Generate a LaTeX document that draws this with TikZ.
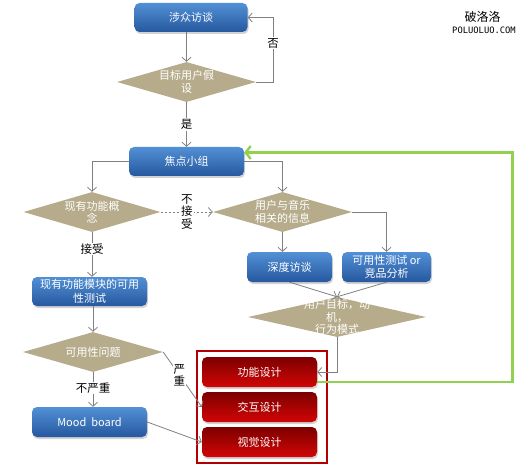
\documentclass[tikz,border=0pt]{standalone}
\usepackage{fontspec}
\setmainfont{Noto Sans CJK SC}
\newfontfamily\monofnt{DejaVu Sans Mono}
\usetikzlibrary{arrows.meta,shapes.geometric,shadows}
\definecolor{bluetop}{RGB}{82,144,214}
\definecolor{bluebot}{RGB}{38,88,158}
\definecolor{redtop}{RGB}{125,0,0}
\definecolor{redbot}{RGB}{210,5,5}
\definecolor{khaki}{RGB}{182,172,140}
\definecolor{conn}{RGB}{128,128,128}
\definecolor{lgreen}{RGB}{146,208,80}
\definecolor{frame}{RGB}{178,0,0}
\begin{document}
\begin{tikzpicture}[x=1pt,y=-1pt,
  box/.style={rounded corners=5pt, draw=none, text=white, align=center,
    font=\fontsize{11}{13.5}\selectfont, inner sep=1pt,
    drop shadow={shadow xshift=1pt,shadow yshift=-2pt,opacity=0.35}},
  bluebox/.style={box, top color=bluetop, bottom color=bluebot},
  redbox/.style={box, top color=redtop, bottom color=redbot, minimum width=115pt, minimum height=30pt},
  dia/.style={diamond, fill=khaki, draw=none, inner sep=0pt},
  dtext/.style={text=white, align=center, font=\fontsize{11}{12.5}\selectfont},
  lbl/.style={fill=white, inner sep=1pt, font=\fontsize{11.5}{12.5}\selectfont, align=center},
  arr/.style={draw=conn, line width=0.8pt, -{Straight Barb[length=4pt,width=9pt]}},
  garr/.style={draw=lgreen, line width=2.6pt, -{Straight Barb[length=5pt,width=13pt,line width=2.4pt]}}
]
\useasboundingbox (0,0) rectangle (529,470);

% watermark
\node (wm1) at (482.5,17) {\fontsize{12}{12}\selectfont 破洛洛};
\node (wm2) at (484,30) {\monofnt\fontsize{8.8}{9}\selectfont POLUOLUO.COM};

% blue boxes
\node[bluebox, minimum width=113pt, minimum height=29pt] (b1) at (191,17.5) {涉众访谈};
\node[bluebox, minimum width=115pt, minimum height=29pt] (b2) at (186.5,161.5) {焦点小组};
\node[bluebox, minimum width=85pt, minimum height=30pt] (b3) at (289.5,267) {深度访谈};
\node[bluebox, minimum width=89pt, minimum height=30pt] (b4) at (386.5,267) {可用性测试 or\\竞品分析};
\node[bluebox, minimum width=115pt, minimum height=29pt] (b5) at (89.5,291.5) {现有功能模块的可用\\性测试};
\node[bluebox, minimum width=115pt, minimum height=30pt] (b6) at (89.5,422) {Mood\ \ board};

% diamonds
\node[dia, minimum width=139pt, minimum height=40pt, label={[dtext]center:目标用户假\\设}] (d1) at (186.5,82) {};
\node[dia, minimum width=137pt, minimum height=40pt, label={[dtext]center:现有功能概\\念}] (d2) at (92,212) {};
\node[dia, minimum width=139pt, minimum height=40pt, label={[dtext]center:用户与音乐\\相关的信息}] (d3) at (282.5,212) {};
\node[dia, minimum width=178pt, minimum height=40pt, label={[dtext]center:用户目标，动\\机，\\行为模式}] (d4) at (337,317) {};
\node[dia, minimum width=140pt, minimum height=40pt, label={[dtext]center:可用性问题}] (d5) at (93,352) {};

% red frame and boxes
\node[draw=frame, line width=1.6pt, minimum width=130pt, minimum height=112pt, inner sep=0pt] (fr) at (262,407) {};
\node[redbox] (r1) at (259.5,372) {功能设计};
\node[redbox] (r2) at (259.5,407) {交互设计};
\node[redbox] (r3) at (259.5,442) {视觉设计};

% connectors
\draw[arr] (d1.north |- b1.south) -- (d1.north);
\draw[arr] (d1.east) -- ++(17,0) |- (b1.east) node[lbl, pos=0.3] {否};
\draw[arr] (d1.south) -- (d1.south |- b2.north) node[lbl, midway] {是};
\draw[arr] (b2.west) -| (d2.north);
\draw[arr] (b2.east) -| (d3.north);
\draw[arr, dash pattern=on 2.5pt off 1.5pt] (d2.east) -- (d3.west) node[lbl, midway] {不\\接\\受};
\draw[arr] (d2.south) -- (d2.south |- b5.north) node[lbl, pos=0.38] {接受};
\draw[arr] (b5.south -| d5.north) -- (d5.north);
\draw[arr] (d5.south) -- (d5.south |- b6.north) node[lbl, pos=0.45] {不严重};
\draw[arr] (d5.east) -- (r2.west) node[lbl, pos=0.42] {严\\重};
\draw[arr] (b6.east) -- (r3.west);
\draw[arr] (d3.south) -- (d3.south |- b3.north);
\draw[arr] (d3.east) -| (b4.north);
\draw[arr] (b3.south) -- (d4.north);
\draw[arr] (b4.south) -- (d4.north);
\draw[arr] (d4.south) |- (r1.east);
\draw[garr] ([yshift=-10pt]r1.east) -- ++(195,0) |- ([yshift=9pt]b2.east);
\end{tikzpicture}
\end{document}
